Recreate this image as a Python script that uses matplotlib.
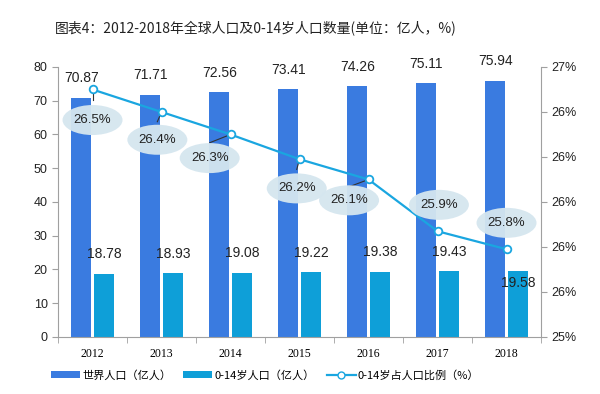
import matplotlib
matplotlib.use("Agg")
import matplotlib.pyplot as plt
from matplotlib.patches import Ellipse
from matplotlib.lines import Line2D
from matplotlib.patches import Patch
import numpy as np

plt.rcParams['font.family'] = ['Liberation Sans', 'Noto Sans CJK SC', 'DejaVu Sans']

years = ['2012', '2013', '2014', '2015', '2016', '2017', '2018']
world_pop = [70.87, 71.71, 72.56, 73.41, 74.26, 75.11, 75.94]
child_pop = [18.78, 18.93, 19.08, 19.22, 19.38, 19.43, 19.58]
child_ratio = [26.50, 26.40, 26.30, 26.19, 26.10, 25.87, 25.79]
ratio_labels = ['26.5%', '26.4%', '26.3%', '26.2%', '26.1%', '25.9%', '25.8%']
legend_labels = ['世界人口（亿人）', '0-14岁人口（亿人）', '0-14岁占人口比例（%）']
title = '图表4：2012-2018年全球人口及0-14岁人口数量(单位：亿人，%)'

c_world = '#3A7BE0'
c_child = '#0E9FD8'
c_line = '#1AA6E0'
c_ell = '#D5E6EF'
c_axis = '#A0A0A0'

fig = plt.figure(figsize=(6.0, 3.94), dpi=100)
ax = fig.add_axes([0.0967, 0.1447, 0.805, 0.6853])
ax2 = ax.twinx()

x = np.arange(len(years))
w = 0.29
ax.bar(x - 0.16, world_pop, width=w, color=c_world, zorder=2)
ax.bar(x + 0.17, child_pop, width=w, color=c_child, zorder=2)

ax.set_xlim(-0.5, len(years) - 0.5)
ax.set_ylim(0, 80)
ax.set_yticks(np.arange(0, 81, 10))
ax.set_xticks(x)
ax.set_xticklabels(years, fontfamily='Liberation Serif', fontsize=8.5)
ax.set_xticks(np.arange(-0.5, len(years), 1), minor=True)
ax.tick_params(axis='x', which='major', length=0, pad=8)
ax.tick_params(axis='x', which='minor', length=4, color=c_axis, direction='out')
ax.tick_params(axis='y', length=4, color=c_axis, labelsize=9, labelcolor='#222222')

for s in ['top', 'right']:
    ax.spines[s].set_visible(False)
for s in ['top', 'left']:
    ax2.spines[s].set_visible(False)
ax.spines['left'].set_color(c_axis)
ax.spines['bottom'].set_color(c_axis)
ax2.spines['right'].set_color(c_axis)
ax2.spines['bottom'].set_visible(False)

for i, v in enumerate(world_pop):
    ax.annotate(f'{v:.2f}', (x[i] - 0.16, v), xytext=(0, 9), textcoords='offset points',
                ha='center', va='bottom', fontsize=10, color='#222222')
for i, v in enumerate(child_pop):
    dy = 9 if i < len(child_pop) - 1 else -14
    ax.annotate(f'{v:.2f}', (x[i] + 0.17, v), xytext=(0, dy), textcoords='offset points',
                ha='center', va='bottom', fontsize=10, color='#222222')

ax2.set_ylim(25.4, 26.6)
ax2.set_yticks(np.arange(25.4, 26.61, 0.2))
ax2.set_yticklabels([f'{t:.0f}%' for t in np.arange(25.4, 26.61, 0.2)])
ax2.tick_params(axis='y', length=4, color=c_axis, labelsize=9, labelcolor='#222222')

ax2.plot(x, child_ratio, color=c_line, lw=1.6, marker='o', ms=5.5,
         markerfacecolor='white', markeredgecolor=c_line, markeredgewidth=1.3, zorder=4)

# callout ellipses (offset in points: dx, dy)
offsets = [(0, -22), (-3, -20), (-15, -17), (-2, -21), (-14, -15), (1, 19), (0, 19)]
for i, v in enumerate(child_ratio):
    dx, dy = offsets[i]
    px, py = ax2.transData.transform((x[i], v))
    ex, ey = px + dx * 100 / 72, py + dy * 100 / 72
    cx, cy = ax2.transData.inverted().transform((ex, ey))
    if dy < 0:
        ax2.plot([x[i], cx], [v, v + (cy - v) * 0.35], color='#333333', lw=0.8, zorder=3)
    ell_w = ax2.transData.inverted().transform((ex + 30, ey))[0] - cx
    ell_h = ax2.transData.inverted().transform((ex, ey + 15))[1] - cy
    e = Ellipse((cx, cy), 2 * ell_w, 2 * ell_h, facecolor=c_ell, edgecolor='none', alpha=0.95, zorder=5)
    ax2.add_patch(e)
    ax2.text(cx, cy, ratio_labels[i], ha='center', va='center', fontsize=9.5, color='#222222', zorder=6)

fig.text(0.427, 0.928, title, ha='center', va='center', fontsize=10, color='#222222',
         fontweight='medium', fontfamily=['Noto Sans CJK SC', 'DejaVu Sans'])

handles = [Patch(facecolor=c_world, edgecolor='none'),
           Patch(facecolor=c_child, edgecolor='none'),
           Line2D([0], [0], color=c_line, lw=1.6, marker='o', ms=5, markerfacecolor='white',
                  markeredgecolor=c_line)]
leg = fig.legend(handles, legend_labels, loc='center', bbox_to_anchor=(0.442, 0.048), ncol=3,
                 frameon=False, prop={'family': ['Noto Sans CJK SC', 'DejaVu Sans'], 'size': 8},
                 handlelength=2.6, handleheight=0.6, columnspacing=1.1, handletextpad=0.2)

fig.savefig('out.png', dpi=100)
